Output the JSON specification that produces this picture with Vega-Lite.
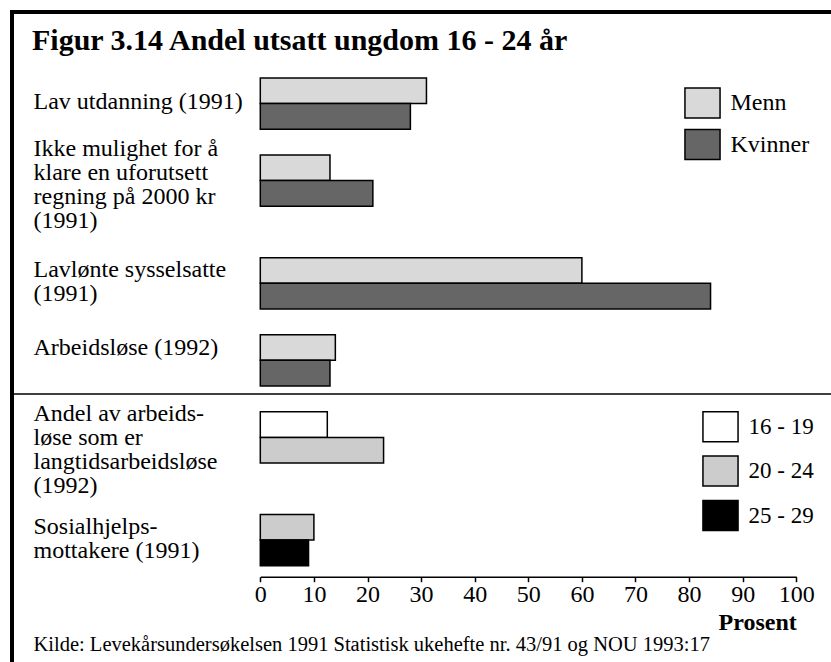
{
  "$schema": "https://vega.github.io/schema/vega-lite/v6.json",
  "width": 840,
  "height": 700,
  "autosize": {"type": "none"},
  "padding": {"left": 12, "top": 12, "right": 0, "bottom": 0},
  "background": "white",
  "title": {
    "text": "Figur 3.14 Andel utsatt ungdom 16 - 24 år",
    "anchor": "start",
    "frame": "group",
    "orient": "top",
    "offset": -68,
    "dx": 20,
    "baseline": "alphabetic",
    "font": "Liberation Serif",
    "fontSize": 30,
    "fontWeight": "bold",
    "color": "black"
  },
  "config": {
    "view": {"stroke": "black", "strokeWidth": 4},
    "font": "Liberation Serif"
  },
  "data": {
    "values": [
      {"kategori": "Lav utdanning (1991)", "gruppe": "Menn", "del": "kjonn", "prosent": 31},
      {"kategori": "Lav utdanning (1991)", "gruppe": "Kvinner", "del": "kjonn", "prosent": 28},
      {"kategori": "Ikke mulighet for å klare en uforutsett regning på 2000 kr (1991)", "gruppe": "Menn", "del": "kjonn", "prosent": 13},
      {"kategori": "Ikke mulighet for å klare en uforutsett regning på 2000 kr (1991)", "gruppe": "Kvinner", "del": "kjonn", "prosent": 21},
      {"kategori": "Lavlønte sysselsatte (1991)", "gruppe": "Menn", "del": "kjonn", "prosent": 60},
      {"kategori": "Lavlønte sysselsatte (1991)", "gruppe": "Kvinner", "del": "kjonn", "prosent": 84},
      {"kategori": "Arbeidsløse (1992)", "gruppe": "Menn", "del": "kjonn", "prosent": 14},
      {"kategori": "Arbeidsløse (1992)", "gruppe": "Kvinner", "del": "kjonn", "prosent": 13},
      {"kategori": "Andel av arbeidsløse som er langtidsarbeidsløse (1992)", "gruppe": "16 - 19", "del": "alder", "prosent": 12.5},
      {"kategori": "Andel av arbeidsløse som er langtidsarbeidsløse (1992)", "gruppe": "20 - 24", "del": "alder", "prosent": 23},
      {"kategori": "Sosialhjelpsmottakere (1991)", "gruppe": "20 - 24", "del": "alder", "prosent": 10},
      {"kategori": "Sosialhjelpsmottakere (1991)", "gruppe": "25 - 29", "del": "alder", "prosent": 9}
    ]
  },
  "transform": [{"calculate": "datum.kategori + '|' + datum.gruppe", "as": "slot"}],
  "layer": [
    {
      "transform": [{"filter": "datum.del === 'kjonn'"}],
      "mark": {"type": "bar", "stroke": "black", "strokeWidth": 1.5},
      "encoding": {
        "y": {
          "field": "slot",
          "type": "nominal",
          "scale": {
            "type": "band",
            "domain": [
              "Lav utdanning (1991)|Menn",
              "Lav utdanning (1991)|Kvinner",
              "gap1",
              "Ikke mulighet for å klare en uforutsett regning på 2000 kr (1991)|Menn",
              "Ikke mulighet for å klare en uforutsett regning på 2000 kr (1991)|Kvinner",
              "gap2",
              "gap3",
              "Lavlønte sysselsatte (1991)|Menn",
              "Lavlønte sysselsatte (1991)|Kvinner",
              "gap4",
              "Arbeidsløse (1992)|Menn",
              "Arbeidsløse (1992)|Kvinner",
              "gap5",
              "Andel av arbeidsløse som er langtidsarbeidsløse (1992)|16 - 19",
              "Andel av arbeidsløse som er langtidsarbeidsløse (1992)|20 - 24",
              "gap6",
              "gap7",
              "Sosialhjelpsmottakere (1991)|20 - 24",
              "Sosialhjelpsmottakere (1991)|25 - 29"
            ],
            "range": [65.9, 553.8],
            "paddingInner": 0,
            "paddingOuter": 0
          },
          "axis": {
            "orient": "left",
            "values": [
              "Lav utdanning (1991)|Menn",
              "Ikke mulighet for å klare en uforutsett regning på 2000 kr (1991)|Menn",
              "Lavlønte sysselsatte (1991)|Menn",
              "Arbeidsløse (1992)|Menn",
              "Andel av arbeidsløse som er langtidsarbeidsløse (1992)|16 - 19",
              "Sosialhjelpsmottakere (1991)|20 - 24"
            ],
            "labelExpr": "{'Lav utdanning (1991)|Menn': 'Lav utdanning (1991)', 'Ikke mulighet for å klare en uforutsett regning på 2000 kr (1991)|Menn': ['Ikke mulighet for å', 'klare en uforutsett', 'regning på 2000 kr', '(1991)'], 'Lavlønte sysselsatte (1991)|Menn': ['Lavlønte sysselsatte', '(1991)'], 'Arbeidsløse (1992)|Menn': 'Arbeidsløse (1992)', 'Andel av arbeidsløse som er langtidsarbeidsløse (1992)|16 - 19': ['Andel av arbeids-', 'løse som er', 'langtidsarbeidsløse', '(1992)'], 'Sosialhjelpsmottakere (1991)|20 - 24': ['Sosialhjelps-', 'mottakere (1991)']}[datum.value]",
            "labelOffset": {
              "condition": [
                {"test": "indexof(datum.value, 'Lav utdanning') === 0", "value": 11},
                {"test": "indexof(datum.value, 'Ikke') === 0", "value": -19},
                {"test": "indexof(datum.value, 'Andel') === 0", "value": -11}
              ],
              "value": 0
            },
            "ticks": false,
            "domain": false,
            "grid": false,
            "labelAlign": "left",
            "labelBaseline": "middle",
            "labelPadding": -21,
            "labelFont": "Liberation Serif",
            "labelFontSize": 24,
            "labelLineHeight": 24,
            "labelColor": "black",
            "labelLimit": 0,
            "labelOverlap": false,
            "labelBound": false,
            "title": "Kilde: Levekårsundersøkelsen 1991 Statistisk ukehefte nr. 43/91 og NOU 1993:17",
            "titleAngle": 0,
            "titleAlign": "left",
            "titleBaseline": "alphabetic",
            "titleX": 21,
            "titleY": 638,
            "titleFont": "Liberation Serif",
            "titleFontSize": 20.5,
            "titleFontWeight": "normal",
            "titleColor": "black"
          }
        },
        "x": {
          "field": "prosent",
          "type": "quantitative",
          "scale": {"domain": [0, 100], "range": [248.3, 784.3], "nice": false, "zero": true},
          "axis": {
            "orient": "bottom",
            "offset": -135.3,
            "values": [0, 10, 20, 30, 40, 50, 60, 70, 80, 90, 100],
            "grid": false,
            "domainColor": "black",
            "domainWidth": 1.5,
            "tickColor": "black",
            "tickWidth": 1.5,
            "tickSize": 5,
            "labelFont": "Liberation Serif",
            "labelFontSize": 24,
            "labelColor": "black",
            "labelPadding": 1,
            "labelFlush": false,
            "labelOverlap": false,
            "title": "Prosent",
            "titleFont": "Liberation Serif",
            "titleFontSize": 24,
            "titleFontWeight": "bold",
            "titleColor": "black",
            "titleAnchor": "end",
            "titlePadding": 4
          }
        },
        "color": {
          "field": "gruppe",
          "type": "nominal",
          "scale": {"domain": ["Menn", "Kvinner"], "range": ["#d9d9d9", "#666666"]},
          "legend": {
            "orient": "none",
            "legendX": 674.5,
            "legendY": 75,
            "title": null,
            "padding": 0,
            "symbolType": "M-1.17,-1H1.17V1H-1.17Z",
            "symbolSize": 900,
            "symbolStrokeColor": "black",
            "symbolStrokeWidth": 1.5,
            "symbolOpacity": 1,
            "labelFont": "Liberation Serif",
            "labelFontSize": 24,
            "labelColor": "black",
            "labelOffset": 12,
            "rowPadding": 5.5
          }
        }
      }
    },
    {
      "transform": [{"filter": "datum.del === 'alder'"}],
      "mark": {"type": "bar", "stroke": "black", "strokeWidth": 1.5},
      "encoding": {
        "y": {"field": "slot", "type": "nominal"},
        "x": {"field": "prosent", "type": "quantitative"},
        "color": {
          "field": "gruppe",
          "type": "nominal",
          "scale": {"domain": ["16 - 19", "20 - 24", "25 - 29"], "range": ["#ffffff", "#cccccc", "#000000"]},
          "legend": {
            "orient": "none",
            "legendX": 692.5,
            "legendY": 398.7,
            "title": null,
            "padding": 0,
            "symbolType": "M-1.17,-1H1.17V1H-1.17Z",
            "symbolSize": 900,
            "symbolStrokeColor": "black",
            "symbolStrokeWidth": 1.5,
            "symbolOpacity": 1,
            "labelFont": "Liberation Serif",
            "labelFontSize": 23,
            "labelColor": "black",
            "labelOffset": 12,
            "rowPadding": 8.4
          }
        }
      }
    },
    {
      "data": {"values": [{}]},
      "mark": {"type": "rule", "color": "black", "strokeWidth": 1.5},
      "encoding": {"y": {"datum": "gap5", "bandPosition": 0.31}}
    }
  ],
  "resolve": {"scale": {"color": "independent"}}
}
